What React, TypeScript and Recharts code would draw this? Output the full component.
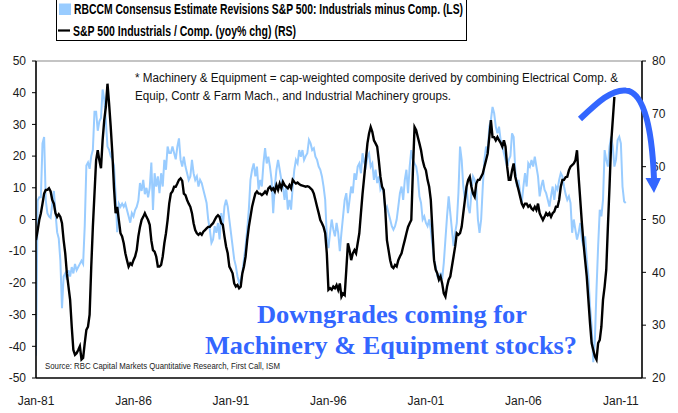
import React from "react";
import { ComposedChart, Line, XAxis, YAxis, ReferenceLine } from "recharts";

// Month index 0 = Jan-81
const xTicks = [0, 60, 120, 180, 240, 300, 360];
const xTickLabels = ["Jan-81", "Jan-86", "Jan-91", "Jan-96", "Jan-01", "Jan-06", "Jan-11"];
const leftTicks = [-50, -40, -30, -20, -10, 0, 10, 20, 30, 40, 50];
const rightTicks = [20, 30, 40, 50, 60, 70, 80];

// RBCCM consensus estimate revisions, Industrials minus Comp. (LS), monthly from Jan-81
const revisions = [
  -43, 6, 7, 7, 24, 26, 6, 2, 1, 0.5, 5, 9,
  2, -4, -6, -13, -28, -18, -17, -19, -16, -18, -15, -17,
  -14, -16, -15, -14, -13, -14, -2, 17, 18, 16, 20, 22,
  34, 34, 28, 31, 32, 41, 38, 31, 23, 22, 20, 19,
  17, 8, -4, 5, 4, 5, 4, 5, 3, 1, -1, 2,
  1, 3, 4, 6, 11.5, 9, 12.5, 8, 10, 7, 10, 18,
  3, 14.6, 10.4, 13.6, 8.3, 14.6, 10.4, 18.8, 15.7, 23, 21, 21,
  23, 21, 19, 23, 25.6, 18.8, 16.7, 19.8, 16.7, 14.6, 12.5, 13.6,
  18.8, 14.6, 12.5, 13.6, 10.4, 12.5, 11.5, 9.4, 7.3, 5.2, 0, -3.2,
  -7.4, -6.3, -2.1, -4.2, -1.1, -6.3, 2, -2.1, 4.1, 6.2, 4.1, 0,
  -4.2, -8.4, -12.6, -14.7, -17.9, -19.9, -19, -16.8, -12.6, -8.4, -3.2, 3.1,
  12.5, 15.7, 17.7, 13.6, 16.7, 9.4, 12.5, 10.4, 17.7, 22.5, 17.7, 19.8,
  16.7, 12.5, 2, 10.4, 15.7, 18.8, 15.7, 12.5, 10.4, 6.2, 10.4, 3.1,
  6.2, 3.1, 10.4, 15.7, 18.8, 17.7, 21.9, 19.8, 21.9, 18.8, 20, 20.9,
  25.1, 24, 21.9, 22.5, 19.8, 18.8, 16.7, 15.7, 13.6, 10.4, 6.2, -5.3,
  -9, -4.2, 0, -3.2, -5.3, -1.1, -4.2, -10, -4.2, 1, 6.2, 8.3,
  2, 6.2, 10.4, 8.3, 14.6, 12.5, 16.7, 17.7, 14.6, 20.9, 18, 16.7,
  19.8, 20.9, 16.7, 17.7, 12.5, 15.7, 11.5, 13.6, 9.4, 10.4, 8.3, 3.1,
  4.1, 2, 0, -2.1, -3.2, -2.1, 0, 4.1, 8.3, 10.4, 6.2, 12.5,
  15.7, 8.3, 16.7, 21.9, 18.8, 17.7, 16.7, 13.6, 7.3, 5.2, 0, 1,
  -1.1, -2.1, 0, -3.2, -8, -12.6, -14.7, -17.9, -18.9, -16.8, -18.9, -13.7,
  -6.3, 1, 7.3, 2, -3.2, -8.4, -4.2, -1.1, 8.3, 23, 18.8, 10.4,
  6.2, 10.4, 4.1, 2, 8.3, 13.6, 12.5, 10.4, 0, -4.2, 0, 10.4,
  18.8, 23, 20.9, 29.3, 31.4, 35.5, 33.5, 29.3, 27.2, 29.3, 25, 23,
  20.9, 18.8, 16.7, 18.8, 20, 27.2, 26, 15.7, 10.4, 12.5, 8.3, 5.2,
  10.4, 14.6, 10.4, 17.7, 16.7, 18.8, 16.7, 19.8, 16.7, 13.6, 7.3, 10.4,
  12.5, 9.4, 8.3, 6.2, 4.1, 7.3, 10.4, 6.2, 10.4, 9.4, 12.5, 14.6,
  13.6, 10.4, 8, 6.2, 7.3, 5.2, -4.2, 0, -3.2, -6.3, -4.2, -1.1,
  -6.3, -8.4, -5.3, -12.6, -17.9, -27.3, -33.6, -45, -38, -22, -8.4, 3.1,
  1, 6.2, 21.9, 18.8, 16.7, 23, 26.1, 23, 16.7, 18.8, 25.1, 26.1,
  24, 10.4, 5.7, 5.2,
];

// S&P 500 Industrials / Comp. yoy% chg (RS), monthly from Jan-81
const relative = [
  46.1, 47.9, 49.9, 51.2, 53, 54.9, 55.6, 55.6, 55.9, 55.3, 53.7, 53,
  51.2, 50.5, 51, 50.5, 49.3, 46.1, 43.6, 39.8, 37.3, 34.8, 29.7, 25.3,
  24.4, 24.7, 25.3, 26, 23.5, 23.8, 26.6, 29.1, 29.7, 32, 41, 48.6,
  54.9, 61.2, 63.1, 61.2, 59.7, 65, 68.8, 71.3, 75.7, 71.9, 67.5, 62.5,
  56, 51.2, 52.4, 49.9, 47.4, 46.8, 45.5, 43.6, 42.3, 41.1, 41.7, 41.4,
  42.3, 43, 44.2, 46.8, 48.6, 49.9, 50.5, 51.2, 50.5, 49.9, 49, 46,
  44.2, 43.9, 43, 41.1, 41.1, 41.4, 43, 45.5, 47.4, 49.9, 53, 54.9,
  55.3, 56.2, 56.2, 56.8, 57.5, 57.8, 57.3, 54.9, 54.6, 53.7, 53, 52.4,
  51.2, 49.3, 48, 47.4, 47.1, 47.4, 47.1, 47.7, 48, 48.3, 48.6, 48.6,
  49, 49.3, 49.9, 50.5, 50.8, 50.5, 49.3, 49, 46.8, 44.9, 43.6, 41.1,
  40.5, 39.8, 37.9, 37.3, 37.6, 37, 37.3, 39.8, 41.1, 43, 46.1, 48.6,
  50.5, 52.4, 53.7, 54.9, 55.3, 54.9, 54.9, 54.6, 54.9, 55.3, 54.9, 55.9,
  56.2, 55.6, 55.9, 55.3, 56.5, 55.6, 56.8, 55.9, 57.1, 56.5, 56.2, 55.9,
  56.5, 55.9, 57.5, 57.1, 56.8, 57, 56.7, 56.5, 56.4, 56.3, 56.2, 56.3,
  56.2, 55.9, 55.6, 54.9, 53.7, 52.4, 51.2, 49.9, 49.3, 48.6, 47.4, 43.6,
  36.7, 37, 36.7, 37.3, 37, 37.6, 36.7, 37.9, 35.4, 36, 35.7, 40.5,
  45.5, 44.2, 42.3, 43.6, 44.2, 43.6, 45.5, 47.4, 51.2, 54.9, 58, 61.2,
  64.4, 66.3, 67.5, 66.6, 65, 64.4, 63.8, 61.2, 58.1, 56.2, 55.6, 51.8,
  46.1, 44.2, 42.3, 41.1, 40.8, 41.4, 41.1, 42.3, 43, 43.6, 44.9, 46.1,
  47.4, 48.6, 49.3, 49.9, 59.3, 67.5, 66.9, 65.6, 64.4, 63.1, 61.2, 60,
  59.3, 57.5, 56.2, 53.7, 48, 42.3, 40.5, 39.8, 38.6, 39.2, 37.9, 36,
  35.4, 37.3, 38.6, 39.2, 41.1, 43, 44.9, 47.4, 47.1, 47.4, 48.6, 51.2,
  53.7, 56.2, 57.5, 58.1, 56.2, 54.9, 54.3, 56.8, 57.5, 57.5, 58.1, 58.7,
  60, 61.2, 62.5, 65.6, 68.8, 65.6, 65.6, 65, 65.6, 65, 64.5, 63.8,
  65, 63.8, 60, 57.5, 57.5, 59.3, 60.6, 58.1, 56.8, 55.6, 54.3, 53,
  52.4, 53, 53, 52.4, 52.7, 52.1, 51.8, 52.4, 51.8, 53, 51.2, 50.5,
  49.9, 50.5, 51.2, 50.8, 51.2, 50.5, 51.2, 51.5, 52.4, 52.4, 53.7, 56.2,
  57.5, 57.5, 58, 58.1, 59.3, 60, 60.3, 60.6, 61.2, 63.1, 58.1, 53.7,
  49.3, 45.5, 42.3, 39.2, 34.8, 30.4, 26.6, 25.3, 24.1, 23.5, 26.6, 27.2,
  29.7, 34.8, 37.3, 40.5, 48.6, 56.2, 64.4, 68.8, 73.2,
];

const data = revisions.map((rev, m) => ({ m, rev, rel: relative[m] }));

const W = 678;
const H = 413;
const sans = "'Liberation Sans', Arial, Helvetica, sans-serif";
const narrow = "'Liberation Sans Narrow', 'Arial Narrow', 'Liberation Sans', Arial, sans-serif";
const headline = "#3366ff";

const tickStyle = { fontSize: 12, fill: "#1a1a1a", fontFamily: sans };
const axisStroke = { stroke: "#000", strokeWidth: 1.6 };

export default function App() {
  return (
    <div style={{ position: "absolute", left: 0, top: 0, width: W, height: H, background: "#fff" }}>
      <ComposedChart width={W} height={H} data={data} margin={{ top: 61, right: 0, bottom: 0, left: 0 }}>
        <XAxis
          dataKey="m"
          type="number"
          domain={[0, 373]}
          ticks={xTicks}
          tickFormatter={(v: number) => xTickLabels[xTicks.indexOf(v)]}
          tick={tickStyle}
          tickLine={false}
          tickSize={4}
          tickMargin={14}
          axisLine={axisStroke}
          height={35}
          allowDataOverflow
        />
        <YAxis
          yAxisId="left"
          domain={[-50, 50]}
          ticks={leftTicks}
          tick={tickStyle}
          tickSize={4}
          tickMargin={6}
          tickLine={{ stroke: "#000" }}
          axisLine={axisStroke}
          width={36}
          interval={0}
        />
        <YAxis
          yAxisId="right"
          orientation="right"
          domain={[20, 80]}
          ticks={rightTicks}
          tick={tickStyle}
          tickSize={4}
          tickMargin={6}
          tickLine={{ stroke: "#000" }}
          axisLine={axisStroke}
          width={36}
          interval={0}
        />
        <ReferenceLine yAxisId="left" y={50} stroke="#8a8a8a" strokeWidth={1.2} />
        <Line
          yAxisId="left"
          dataKey="rev"
          type="linear"
          stroke="#99ccff"
          strokeWidth={2}
          dot={false}
          isAnimationActive={false}
        />
        <Line
          yAxisId="right"
          dataKey="rel"
          type="linear"
          stroke="#000"
          strokeWidth={2.4}
          dot={false}
          isAnimationActive={false}
        />
      </ComposedChart>

      <svg width={W} height={H} style={{ position: "absolute", left: 0, top: 0, pointerEvents: "none" }}>
        {/* legend */}
        <rect x={56.5} y={-4} width={410} height={44.5} fill="#fff" stroke="#000" strokeWidth={1} />
        <rect x={59} y={3.5} width={12} height={11.5} fill="#99ccff" />
        <text x={74} y={14} fontFamily={narrow} fontWeight="bold" fontSize={15} fill="#000"
          textLength={389} lengthAdjust="spacingAndGlyphs">
          RBCCM Consensus Estimate Revisions S&amp;P 500: Industrials minus Comp. (LS)
        </text>
        <line x1={58} x2={70} y1={30.5} y2={30.5} stroke="#000" strokeWidth={2.2} />
        <text x={73} y={35.5} fontFamily={narrow} fontWeight="bold" fontSize={15} fill="#000"
          textLength={223} lengthAdjust="spacingAndGlyphs">
          S&amp;P 500 Industrials / Comp. (yoy% chg) (RS)
        </text>

        {/* footnote */}
        <text x={135} y={82.3} fontFamily={narrow} fontSize={12.5} fill="#111"
          textLength={483} lengthAdjust="spacingAndGlyphs">
          * Machinery &amp; Equipment = cap-weighted composite derived by combining Electrical Comp. &amp;
        </text>
        <text x={135} y={100} fontFamily={narrow} fontSize={12.5} fill="#111"
          textLength={316} lengthAdjust="spacingAndGlyphs">
          Equip, Contr &amp; Farm Mach., and Industrial Machinery groups.
        </text>

        {/* headline */}
        <text x={257} y={322.7} fontFamily="'Liberation Serif', 'Times New Roman', serif" fontWeight="bold"
          fontSize={25.5} fill={headline} textLength={270} lengthAdjust="spacingAndGlyphs">
          Downgrades coming for
        </text>
        <text x={205} y={354} fontFamily="'Liberation Serif', 'Times New Roman', serif" fontWeight="bold"
          fontSize={25.5} fill={headline} textLength={372} lengthAdjust="spacingAndGlyphs">
          Machinery &amp; Equipment stocks?
        </text>

        {/* source */}
        <text x={45} y={369.3} fontFamily={narrow} fontSize={9} fill="#222"
          textLength={235} lengthAdjust="spacingAndGlyphs">
          Source: RBC Capital Markets Quantitative Research, First Call, ISM
        </text>

        {/* turning-point arrow */}
        <path d="M 580 119 C 598 102, 612 89, 626 90.5 C 644 92, 652 128, 654 179"
          fill="none" stroke={headline} strokeWidth={6} />
        <polygon points="645.5,178 661,178 654,193" fill={headline} />
      </svg>
    </div>
  );
}
